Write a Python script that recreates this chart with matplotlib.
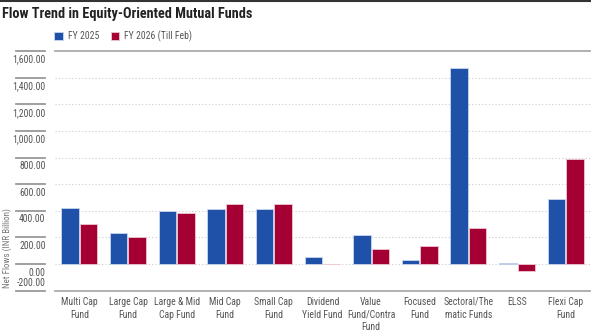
import matplotlib
matplotlib.use("Agg")
import matplotlib.pyplot as plt
import matplotlib.transforms as mtransforms
import numpy as np

categories = ["Multi Cap\nFund", "Large Cap\nFund", "Large & Mid\nCap Fund", "Mid Cap\nFund",
              "Small Cap\nFund", "Dividend\nYield Fund", "Value\nFund/Contra\nFund", "Focused\nFund",
              "Sectoral/The\nmatic Funds", "ELSS", "Flexi Cap\nFund"]
fy2025 = [420, 232, 400, 410, 412, 52, 215, 30, 1470, 10, 492]
fy2026 = [300, 207, 387, 450, 452, 3, 110, 132, 270, -55, 790]
series_names = ["FY 2025", "FY 2026 (Till Feb)"]
yticks = [-200, 0, 200, 400, 600, 800, 1000, 1200, 1400, 1600]
ytick_labels = ["-200.00", "0.00", "200.00", "400.00", "600.00", "800.00",
                "1,000.00", "1,200.00", "1,400.00", "1,600.00"]

BLUE = "#1f51a9"
RED = "#a50034"
GRAY = "#555555"
FONT = ["Roboto Condensed", "DejaVu Sans"]

fig = plt.figure(figsize=(5.91, 3.33), dpi=100)
ax = fig.add_axes([55 / 591, 1 - 290.7 / 333, 535 / 591, (290.7 - 51) / 333])

x = np.arange(len(categories))
w = 0.36
ax.bar(x - 0.19, fy2025, w, color=BLUE, edgecolor="#c9d6ee", linewidth=0.6, label=series_names[0], zorder=3)
ax.bar(x + 0.19, fy2026, w, color=RED, edgecolor="#eec6d2", linewidth=0.6, label=series_names[1], zorder=3)

ax.set_xlim(-0.5, len(categories) - 0.5)
ax.set_ylim(-200, 1600)
ax.set_yticks(yticks)
ax.set_yticklabels([])
ax.tick_params(axis="y", length=0)
for t in yticks[1:-1]:
    ax.axhline(t, color="#cccccc", linestyle=(0, (1, 2)), linewidth=0.8, zorder=1)

for s in ["left", "right"]:
    ax.spines[s].set_visible(False)
for s in ["top", "bottom"]:
    ax.spines[s].set_color("#aaaaaa")
    ax.spines[s].set_linewidth(1.3)

ax.set_xticks(x)
ax.set_xticklabels(categories, fontsize=7, color=GRAY, family=FONT, linespacing=1.32)
ax.tick_params(axis="x", length=0, pad=4.5)

# y tick marks and labels drawn left of the plot area
trans = mtransforms.blended_transform_factory(fig.transFigure, ax.transData)
for t, lab in zip(yticks, ytick_labels):
    ax.plot([16 / 591, 45 / 591], [t, t], transform=trans, color="#999999", linewidth=1.3, clip_on=False)
    if t == yticks[0]:
        off = mtransforms.ScaledTranslation(0, 2.5 / 100, fig.dpi_scale_trans)
        ax.text(45.5 / 591, t, lab, transform=trans + off, ha="right", va="bottom",
                fontsize=7, color=GRAY, family=FONT)
    else:
        off = mtransforms.ScaledTranslation(0, -3.5 / 100, fig.dpi_scale_trans)
        ax.text(45.5 / 591, t, lab, transform=trans + off, ha="right", va="top",
                fontsize=7, color=GRAY, family=FONT)

fig.text(7 / 591, 1 - 248 / 333, "Net Flows (INR Billion)", rotation=90, ha="center", va="center",
         fontsize=6.5, color="#777777", family=FONT)

fig.text(2 / 591, 1 - 14 / 333, "Flow Trend in Equity-Oriented Mutual Funds", ha="left", va="center",
         fontsize=10.3, fontweight="bold", color="#222222", family=FONT)

# top border line
fig.add_artist(plt.Line2D([0, 1], [0.998, 0.998], transform=fig.transFigure, color="#333333", linewidth=1.5))

leg = ax.legend(loc="lower left", bbox_to_anchor=(54 / 591, 1 - 42 / 333), bbox_transform=fig.transFigure,
                ncol=2, frameon=False, prop={"family": FONT, "size": 7}, handlelength=0.9, handleheight=0.9,
                handletextpad=0.5, columnspacing=1.2, borderaxespad=0, borderpad=0)
for t in leg.get_texts():
    t.set_color(GRAY)

fig.savefig("out.png", dpi=100)
